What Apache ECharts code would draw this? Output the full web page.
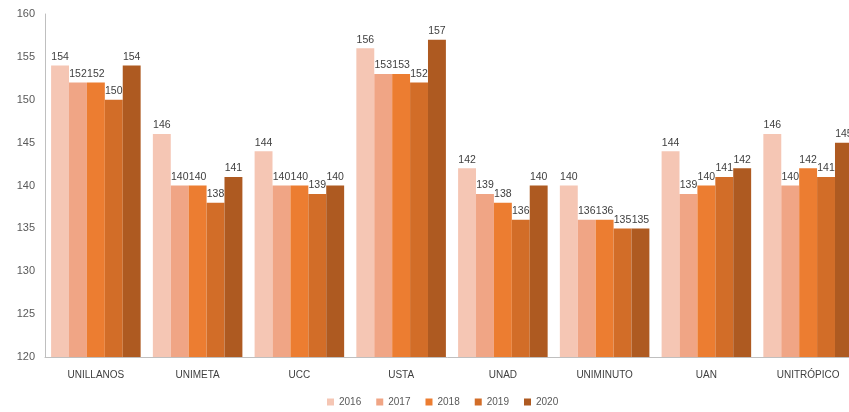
<!DOCTYPE html>
<html><head><meta charset="utf-8">
<script src="https://cdn.jsdelivr.net/npm/echarts@6/dist/echarts.min.js"></script>
<style>html,body{margin:0;padding:0;background:#fff}#c{width:849px;height:412px}</style>
</head><body><div id="c"></div>
<script>
const categories = ['UNILLANOS','UNIMETA','UCC','USTA','UNAD','UNIMINUTO','UAN','UNITRÓPICO'];
const years = ['2016','2017','2018','2019','2020'];
const v2016 = [154,146,144,156,142,140,144,146];
const v2017 = [152,140,140,153,139,136,139,140];
const v2018 = [152,140,140,153,138,136,140,142];
const v2019 = [150,138,139,152,136,135,141,141];
const v2020 = [154,141,140,157,140,135,142,145];
const yTicks = [120,125,130,135,140,145,150,155,160];

const colors = ['#F5C6B4','#F0A585','#EC7D31','#D26D28','#AE5A21'];
const values = [v2016,v2017,v2018,v2019,v2020];
const chart = echarts.init(document.getElementById('c'));
chart.setOption({
  animation:false,
  textStyle:{fontFamily:'Liberation Sans, Arial, sans-serif'},
  grid:{left:45,top:14,width:814,height:343,containLabel:false,outerBoundsMode:'none'},
  legend:{
    bottom:0,left:322,itemWidth:7,itemHeight:7,itemGap:15,icon:'rect',
    textStyle:{fontSize:10,color:'#595959'},data:years
  },
  xAxis:{
    type:'category',data:categories,
    axisLine:{lineStyle:{color:'#BFBFBF'}},axisTick:{show:false},
    axisLabel:{fontSize:10,color:'#404040',margin:13}
  },
  yAxis:{
    type:'value',min:yTicks[0],max:yTicks[yTicks.length-1],interval:5,
    splitLine:{show:false},
    axisLine:{show:true,lineStyle:{color:'#BFBFBF'}},axisTick:{show:false},
    axisLabel:{fontSize:11,color:'#595959',margin:10}
  },
  series: years.map((y,i)=>({
    name:y,type:'bar',data:values[i],
    barGap:'0%',barCategoryGap:'12%',
    itemStyle:{color:colors[i]},
    label:{show:true,position:'top',fontSize:10.5,color:'#404040',distance:3}
  }))
});
</script></body></html>
